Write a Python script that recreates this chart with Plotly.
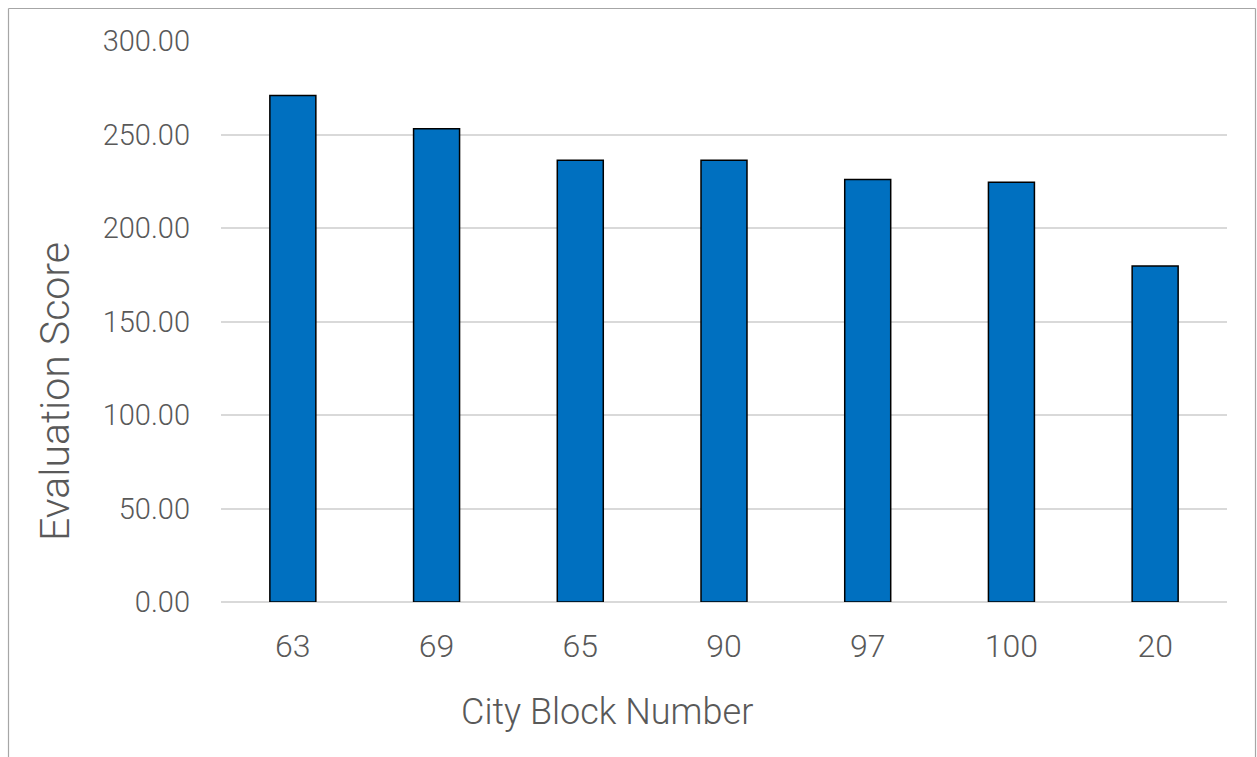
import plotly.graph_objects as go

categories = ["63", "69", "65", "90", "97", "100", "20"]
scores = [270.9, 253.1, 236.2, 236.2, 226.0, 224.4, 179.7]
y_ticks = [0, 50, 100, 150, 200, 250, 300]
y_tick_labels = ["0.00", "50.00", "100.00", "150.00", "200.00", "250.00", "300.00"]

W, H = 1257, 757
L, R, T, B = 221, 30, 41, 155
pw, ph = W - L - R, H - T - B

def px_x(x):
    return (x - L) / pw

def px_y(y):
    return 1 - (y - T) / ph

font_fam = "Roboto, Open Sans, sans-serif"
gray = "#595959"

fig = go.Figure()
fig.add_trace(go.Bar(
    x=categories, y=scores,
    marker=dict(color="#0070C0", line=dict(color="black", width=1.5)),
))

fig.update_layout(
    width=W, height=H,
    margin=dict(l=L, r=R, t=T, b=B),
    paper_bgcolor="white", plot_bgcolor="white",
    bargap=0.68,
    showlegend=False,
    font=dict(family=font_fam, color=gray),
    xaxis=dict(
        type="category",
        tickfont=dict(size=32, color=gray, family=font_fam, weight=300),
        ticks="", showgrid=False, showline=False,
        ticklabelstandoff=22,
    ),
    yaxis=dict(
        range=[0, 300],
        tickvals=y_ticks, ticktext=y_tick_labels,
        tickfont=dict(size=29, color=gray, family=font_fam, weight=300),
        showgrid=True, gridcolor="#d9d9d9", gridwidth=1.5,
        zeroline=True, zerolinecolor="#d9d9d9", zerolinewidth=1.5,
        showline=False, ticks="",
        ticklabelstandoff=30,
    ),
    annotations=[
        dict(text="City Block Number", x=px_x(607), y=px_y(712), xref="paper", yref="paper",
             showarrow=False, xanchor="center", yanchor="middle",
             font=dict(size=36, color=gray, family=font_fam, weight=300)),
        dict(text="Evaluation Score", x=px_x(55), y=px_y(392), xref="paper", yref="paper",
             showarrow=False, xanchor="center", yanchor="middle", textangle=-90,
             font=dict(size=41, color=gray, family=font_fam, weight=300)),
    ],
    shapes=[
        dict(type="line", xref="paper", yref="paper", x0=px_x(8.5), x1=px_x(1255.5), y0=px_y(8.5), y1=px_y(8.5),
             line=dict(color="#a6a6a6", width=1.2)),
        dict(type="line", xref="paper", yref="paper", x0=px_x(8.5), x1=px_x(8.5), y0=px_y(8.5), y1=px_y(760),
             line=dict(color="#a6a6a6", width=1.2)),
        dict(type="line", xref="paper", yref="paper", x0=px_x(1255.5), x1=px_x(1255.5), y0=px_y(8.5), y1=px_y(760),
             line=dict(color="#a6a6a6", width=1.2)),
    ],
)

fig.write_html("out.html")
